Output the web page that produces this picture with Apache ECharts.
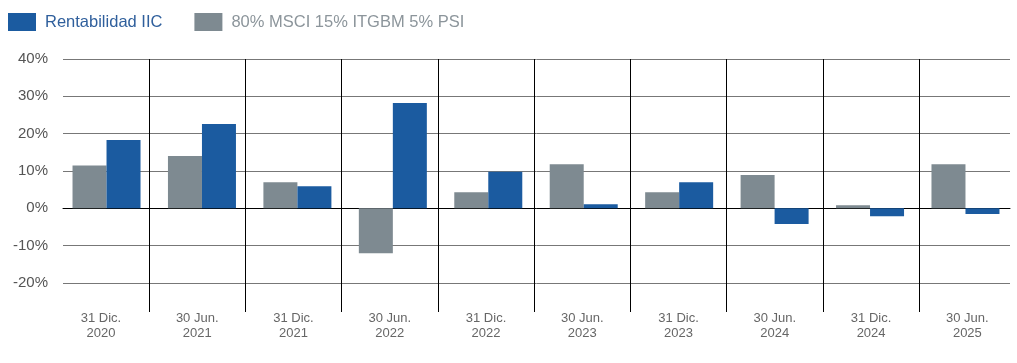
<!DOCTYPE html>
<html><head><meta charset="utf-8">
<script src="https://cdn.jsdelivr.net/npm/echarts@6/dist/echarts.min.js"></script>
<style>html,body{margin:0;padding:0;background:#fff}#c{width:1017px;height:363px}</style>
</head><body><div id="c"></div>
<script>
const categories = ['31 Dic.\n2020','30 Jun.\n2021','31 Dic.\n2021','30 Jun.\n2022','31 Dic.\n2022','30 Jun.\n2023','31 Dic.\n2023','30 Jun.\n2024','31 Dic.\n2024','30 Jun.\n2025'];
const benchmark = [11.5, 14.0, 7.0, -12.0, 4.3, 11.8, 4.3, 8.9, 0.8, 11.8];
const fund = [18.3, 22.6, 5.9, 28.2, 9.8, 1.1, 7.0, -4.2, -2.1, -1.5];
const yTicks = {min: -20, max: 40, interval: 10};
const seriesNames = ['Rentabilidad IIC', '80% MSCI 15% ITGBM 5% PSI'];
const BLUE = '#1b5ba0', GRAY = '#7e8a91';
const font = 'Liberation Sans, Arial, sans-serif';
const chart = echarts.init(document.getElementById('c'), null, {renderer: 'canvas'});
chart.setOption({
  animation: false,
  legend: {
    left: 8, top: 13, padding: 0, itemWidth: 28, itemHeight: 18, itemGap: 32,
    icon: 'rect',
    data: [
      {name: seriesNames[0], textStyle: {color: '#2f5f9c'}},
      {name: seriesNames[1], textStyle: {color: '#8c959b'}}
    ],
    textStyle: {fontFamily: font, fontSize: 16.5, padding: [0,0,0,4]}
  },
  grid: [
    {left: 63, right: 7, top: 59, bottom: 80},
    {left: 58.3, right: 4.3, top: 59, bottom: 80},
    {left: 52.8, right: 1.5, top: 59, bottom: 51}
  ],
  xAxis: [
    {gridIndex: 0, type: 'category', data: categories, axisLine: {onZero: true, lineStyle: {color: '#000', width: 1}}, axisTick: {show: false}, axisLabel: {show: false}, splitLine: {show: false}},
    {gridIndex: 1, type: 'category', data: categories, show: false},
    {gridIndex: 2, type: 'category', data: categories, axisLine: {show: false}, axisTick: {show: false},
     axisLabel: {color: '#666', fontFamily: font, fontSize: 13, lineHeight: 15, margin: -1},
     splitLine: {show: true, showMinLine: false, showMaxLine: false, lineStyle: {color: '#000', width: 1}}}
  ],
  yAxis: [
    {gridIndex: 0, type: 'value', min: yTicks.min, max: yTicks.max, interval: yTicks.interval,
     axisLine: {show: false}, axisTick: {show: false},
     axisLabel: {formatter: '{value}%', color: '#555', fontFamily: font, fontSize: 15, margin: 15},
     splitLine: {lineStyle: {color: '#777', width: 1}}},
    {gridIndex: 1, type: 'value', min: yTicks.min, max: yTicks.max, interval: yTicks.interval, show: false, splitLine: {show: false}},
    {gridIndex: 2, type: 'value', min: 0, max: 1, show: false, splitLine: {show: false}}
  ],
  series: [
    {name: '_pad', type: 'bar', xAxisIndex: 1, yAxisIndex: 1, data: categories.map(() => null), barWidth: 0.1, barGap: 0, silent: true},
    {name: seriesNames[1], type: 'bar', xAxisIndex: 1, yAxisIndex: 1, data: benchmark, barWidth: 34, barGap: 0, itemStyle: {color: GRAY}},
    {name: seriesNames[0], type: 'bar', xAxisIndex: 1, yAxisIndex: 1, data: fund, barWidth: 34, barGap: 0, itemStyle: {color: BLUE}}
  ]
});
</script></body></html>
